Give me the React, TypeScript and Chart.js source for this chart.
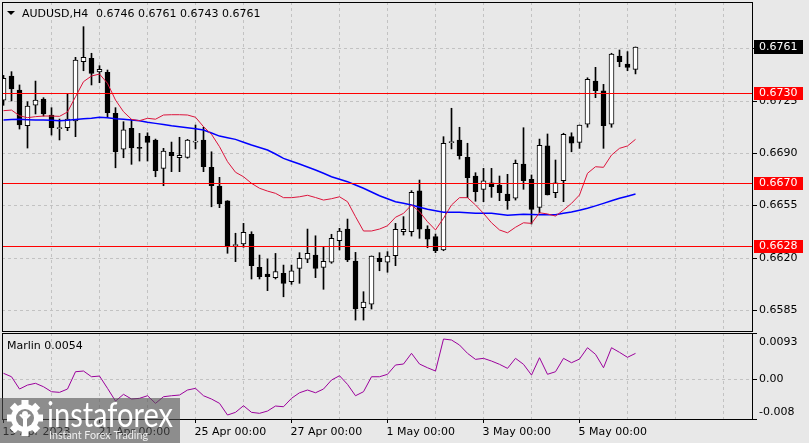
import React, { useEffect, useRef } from 'react';
import { Chart, registerables } from 'chart.js';

Chart.register(...registerables);

const FONT = '"DejaVu Sans", sans-serif';
const BG = '#e8e8e8';
const GRID = '#c2c2c2';

// ---- data (bar index 0 = 19 Apr 2023 00:00, H4 bars) ----
const opens = [
  0.67255, 0.67416, 0.67322, 0.67083, 0.6722, 0.67262, 0.67155, 0.67064, 0.6707, 0.67115,
  0.67512, 0.67534, 0.67443, 0.67441, 0.67166, 0.66927, 0.67066, 0.66934, 0.67014, 0.66988,
  0.66798, 0.66905, 0.66869, 0.66872, 0.66974, 0.66988, 0.66805, 0.6668, 0.6658, 0.66281,
  0.66292, 0.66357, 0.66136, 0.66091, 0.66067, 0.66096, 0.6604, 0.66129, 0.6619, 0.66218,
  0.66136, 0.6617, 0.66314, 0.66392, 0.66178, 0.65866, 0.65889, 0.66196, 0.6617, 0.66214,
  0.66374, 0.66374, 0.66647, 0.66392, 0.66341, 0.66252, 0.6697, 0.66988, 0.66872, 0.66747,
  0.66658, 0.66702, 0.66687, 0.66626, 0.66598, 0.66827, 0.66725, 0.66537, 0.66948, 0.66635,
  0.66715, 0.6701, 0.66972, 0.67093, 0.67382, 0.67316, 0.67093, 0.6755, 0.67496, 0.6746,
];
const highs = [
  0.6742, 0.67445, 0.67356, 0.67244, 0.67382, 0.67271, 0.67204, 0.67128, 0.67295, 0.67541,
  0.67746, 0.67568, 0.67485, 0.67456, 0.67204, 0.6711, 0.67126, 0.67032, 0.67036, 0.66994,
  0.66932, 0.66974, 0.67006, 0.66992, 0.67088, 0.67073, 0.66909, 0.66738, 0.66582, 0.66364,
  0.6643, 0.66374, 0.66218, 0.66192, 0.66229, 0.66151, 0.66151, 0.66234, 0.66392, 0.66347,
  0.6627, 0.66357, 0.66397, 0.66459, 0.66236, 0.65973, 0.66212, 0.66234, 0.66241, 0.6643,
  0.66475, 0.66649, 0.6672, 0.66414, 0.66359, 0.6701, 0.672, 0.67073, 0.66966, 0.66769,
  0.66798, 0.66798, 0.66747, 0.66758, 0.66854, 0.6707, 0.66754, 0.66994, 0.67028, 0.66854,
  0.67033, 0.67036, 0.67088, 0.67404, 0.67474, 0.6736, 0.67568, 0.6759, 0.67579, 0.6761,
];
const lows = [
  0.6722, 0.67249, 0.67061, 0.66934, 0.67162, 0.67148, 0.67021, 0.66988, 0.6705, 0.6701,
  0.67451, 0.67356, 0.67371, 0.67137, 0.66802, 0.66869, 0.66825, 0.66847, 0.66847, 0.66742,
  0.66682, 0.66776, 0.66776, 0.66866, 0.66928, 0.66776, 0.66541, 0.66535, 0.6623, 0.66174,
  0.6627, 0.66058, 0.66058, 0.6598, 0.66058, 0.65939, 0.66022, 0.66029, 0.66167, 0.66067,
  0.65989, 0.66163, 0.66252, 0.66174, 0.65783, 0.65783, 0.65857, 0.66113, 0.66103, 0.66147,
  0.66352, 0.66345, 0.6633, 0.66267, 0.66234, 0.66247, 0.66928, 0.6686, 0.66602, 0.66578,
  0.66575, 0.66604, 0.66582, 0.66524, 0.66586, 0.66658, 0.66426, 0.66501, 0.6662, 0.66602,
  0.66575, 0.66909, 0.66932, 0.67073, 0.67271, 0.66932, 0.67073, 0.67478, 0.67451, 0.6743,
];
const closes = [
  0.674, 0.67329, 0.67088, 0.67215, 0.67255, 0.67162, 0.6707, 0.67067, 0.67128, 0.67523,
  0.67541, 0.67434, 0.67461, 0.6717, 0.66909, 0.67055, 0.66934, 0.66932, 0.66972, 0.66782,
  0.66914, 0.66883, 0.66885, 0.66988, 0.66976, 0.66809, 0.66682, 0.6656, 0.66274, 0.66283,
  0.6637, 0.66147, 0.66073, 0.66073, 0.66107, 0.66029, 0.66113, 0.66196, 0.6623, 0.66129,
  0.66176, 0.6633, 0.66379, 0.66185, 0.65857, 0.65904, 0.66212, 0.66174, 0.66212, 0.6639,
  0.6639, 0.66638, 0.66392, 0.66325, 0.66247, 0.66966, 0.66974, 0.66883, 0.66736, 0.66642,
  0.66715, 0.66675, 0.66635, 0.66582, 0.66832, 0.66715, 0.66524, 0.66952, 0.6662, 0.66702,
  0.67026, 0.66966, 0.67088, 0.67394, 0.67317, 0.67083, 0.67563, 0.67512, 0.67474, 0.6761,
];
const maFast = [
  0.67184, 0.67188, 0.6715, 0.67137, 0.67144, 0.67148, 0.67148, 0.67146, 0.67175, 0.67277,
  0.67378, 0.67416, 0.67429, 0.67367, 0.67255, 0.67177, 0.67126, 0.67117, 0.67133, 0.67127,
  0.67155, 0.67157, 0.67157, 0.67155, 0.6714, 0.67077, 0.67026, 0.66943, 0.66843, 0.66772,
  0.66742, 0.66698, 0.66665, 0.66646, 0.66631, 0.66602, 0.66602, 0.66608, 0.66618, 0.66603,
  0.66586, 0.66595, 0.66608, 0.66575, 0.66475, 0.66379, 0.66379, 0.66392, 0.66414, 0.66471,
  0.66497, 0.66553, 0.66508, 0.66441, 0.66386, 0.66464, 0.66553, 0.66602, 0.66602, 0.66553,
  0.66497, 0.66434, 0.66386, 0.66367, 0.66404, 0.66434, 0.6643, 0.66501, 0.66493, 0.66479,
  0.66519, 0.66564, 0.6662, 0.66765, 0.66809, 0.66805, 0.66887, 0.66932, 0.66948, 0.66992,
];
const maSlow = [
  0.67122, 0.67125, 0.67126, 0.67124, 0.67122, 0.67122, 0.6712, 0.67117, 0.6712, 0.67125,
  0.6713, 0.67133, 0.6714, 0.67137, 0.6713, 0.67126, 0.67122, 0.67117, 0.67106, 0.67099,
  0.67091, 0.67083, 0.67077, 0.6707, 0.67063, 0.67055, 0.67035, 0.67014, 0.67003, 0.66992,
  0.66973, 0.66954, 0.66938, 0.66921, 0.66894, 0.66865, 0.66846, 0.66827, 0.66807, 0.66787,
  0.66765, 0.66742, 0.66725, 0.66709, 0.66687, 0.66665, 0.6664, 0.66615, 0.66595, 0.66575,
  0.66564, 0.66553, 0.66538, 0.66524, 0.66514, 0.66504, 0.66504, 0.66504, 0.66501, 0.66497,
  0.66497, 0.66497, 0.66491, 0.66484, 0.66488, 0.66491, 0.66489, 0.66488, 0.66488, 0.66488,
  0.66497, 0.66506, 0.66518, 0.66531, 0.66547, 0.66564, 0.66581, 0.66598, 0.66612, 0.66626,
];
const marlin = [
  0.00119, 0.0005, -0.00197, -0.00117, -0.00082, -0.00151, -0.00251, -0.00264, -0.00197, 0.00151,
  0.00165, 0.0005, 0.00064, -0.00183, -0.00439, -0.00304, -0.00398, -0.00384, -0.00332, -0.00485,
  -0.00352, -0.00332, -0.00318, -0.00217, -0.00183, -0.00332, -0.00398, -0.00485, -0.0072, -0.00666,
  -0.00533, -0.00666, -0.00686, -0.0064, -0.00539, -0.00553, -0.00384, -0.00272, -0.00217, -0.00272,
  -0.00197, -0.00016, 0.0007, -0.00103, -0.00332, -0.00251, 0.0005, 0.0005, 0.00099, 0.00286,
  0.00306, 0.00521, 0.00306, 0.00231, 0.00165, 0.00809, 0.00789, 0.00688, 0.00521, 0.004,
  0.0042, 0.00366, 0.003, 0.00219, 0.0042, 0.003, 0.00084, 0.00433, 0.00099, 0.00151,
  0.0042, 0.00332, 0.00406, 0.00634, 0.00501, 0.00231, 0.00634, 0.00541, 0.00441, 0.0052,
];

const priceTicks = [0.6585, 0.662, 0.6655, 0.669, 0.6725, 0.676];
const levelLines = [0.673, 0.667, 0.6628];
const lastPrice = 0.6761;
const marlinTicks = [0.0093, 0, -0.008];
const marlinTickLabels = ['0.0093', '0.00', '-0.008'];
const timeLabelIdx = [0, 12, 24, 36, 48, 60, 72];
const timeLabelText = ['19 Apr 2023', '21 Apr 00:00', '25 Apr 00:00', '27 Apr 00:00', '1 May 00:00', '3 May 00:00', '5 May 00:00'];
const symbolTitle = 'AUDUSD,H4';
const ohlcTitle = '0.6746 0.6761 0.6743 0.6761';
const marlinTitle = 'Marlin 0.0054';

// axis ranges
const X_MIN = -0.1875;
const X_MAX = 93.5625;
const PRICE_MIN = 0.6571;
const PRICE_MAX = 0.67911;
const MARLIN_MIN = -0.008;
const MARLIN_MAX = 0.0093;

const W = 809;
const H = 443;

function drawVGrid(ctx: CanvasRenderingContext2D, x: any, a: any) {
  ctx.save();
  ctx.strokeStyle = GRID;
  ctx.lineWidth = 1;
  ctx.setLineDash([3, 3]);
  for (let i = 6; i <= 90; i += 6) {
    const px = Math.floor(x.getPixelForValue(i)) + 0.5;
    ctx.beginPath();
    ctx.moveTo(px, a.top);
    ctx.lineTo(px, a.bottom);
    ctx.stroke();
  }
  ctx.restore();
}

function drawBox(ctx: CanvasRenderingContext2D, a: any) {
  ctx.save();
  ctx.strokeStyle = '#000';
  ctx.lineWidth = 1;
  ctx.strokeRect(a.left + 0.5, a.top + 0.5, a.right - a.left, a.bottom - a.top);
  ctx.restore();
}

const mainPlugin = {
  id: 'mainDecor',
  beforeDatasetsDraw(chart: any) {
    const { ctx, chartArea: a, scales } = chart;
    const x = scales.x, y = scales.y;
    drawVGrid(ctx, x, a);
    ctx.save();
    ctx.strokeStyle = GRID;
    ctx.setLineDash([3, 3]);
    priceTicks.forEach((p) => {
      const py = Math.round(y.getPixelForValue(p)) + 0.5;
      ctx.beginPath();
      ctx.moveTo(a.left, py);
      ctx.lineTo(a.right, py);
      ctx.stroke();
    });
    ctx.restore();
  },
  afterDatasetsDraw(chart: any) {
    const { ctx, chartArea: a, scales } = chart;
    const y = scales.y;
    ctx.save();
    // level lines
    ctx.strokeStyle = '#ff0000';
    ctx.lineWidth = 1;
    levelLines.forEach((p) => {
      const py = Math.round(y.getPixelForValue(p)) + 0.5;
      ctx.beginPath();
      ctx.moveTo(a.left, py);
      ctx.lineTo(a.right, py);
      ctx.stroke();
    });
    drawBox(ctx, a);
    // price axis
    ctx.font = `11px ${FONT}`;
    ctx.textBaseline = 'middle';
    ctx.textAlign = 'left';
    priceTicks.forEach((p) => {
      const py = Math.round(y.getPixelForValue(p)) + 0.5;
      ctx.strokeStyle = '#000';
      ctx.beginPath();
      ctx.moveTo(a.right, py);
      ctx.lineTo(a.right + 5, py);
      ctx.stroke();
      ctx.fillStyle = '#000';
      ctx.fillText(p.toFixed(4), a.right + 7, py);
    });
    levelLines.forEach((p) => {
      const py = Math.round(y.getPixelForValue(p));
      ctx.fillStyle = '#ff0000';
      ctx.fillRect(a.right + 2, py - 6, 49, 13);
      ctx.fillStyle = '#fff';
      ctx.fillText(p.toFixed(4), a.right + 7, py + 0.5);
    });
    const lp = Math.round(y.getPixelForValue(lastPrice));
    ctx.fillStyle = '#000';
    ctx.fillRect(a.right + 2, lp - 7, 49, 14);
    ctx.fillStyle = '#fff';
    ctx.fillText(lastPrice.toFixed(4), a.right + 7, lp + 0.5);
    // title
    ctx.fillStyle = '#000';
    ctx.beginPath();
    ctx.moveTo(7, 11);
    ctx.lineTo(15, 11);
    ctx.lineTo(11, 15);
    ctx.closePath();
    ctx.fill();
    ctx.textBaseline = 'alphabetic';
    ctx.fillText(symbolTitle, 22, 17);
    ctx.fillText(ohlcTitle, 96, 17);
    ctx.restore();
  },
};

function drawGear(ctx: CanvasRenderingContext2D, cx: number, cy: number) {
  ctx.save();
  ctx.translate(cx, cy);
  ctx.fillStyle = '#ffffff';
  for (let k = 0; k < 8; k++) {
    ctx.save();
    ctx.rotate((k * Math.PI) / 4);
    ctx.fillRect(-3.5, -18, 7, 7);
    ctx.restore();
  }
  ctx.beginPath();
  ctx.arc(0, 0, 14, 0, Math.PI * 2);
  ctx.fill();
  ctx.fillStyle = '#8a8a8a';
  ctx.beginPath();
  ctx.arc(0, 0, 9, 0, Math.PI * 2);
  ctx.fill();
  ctx.fillStyle = '#ffffff';
  ctx.beginPath();
  ctx.arc(0, -4, 3, 0, Math.PI * 2);
  ctx.fill();
  ctx.beginPath();
  ctx.moveTo(-6, -3);
  ctx.lineTo(-2, 1);
  ctx.lineTo(-2, 9);
  ctx.lineTo(2, 9);
  ctx.lineTo(2, 1);
  ctx.lineTo(6, -3);
  ctx.lineTo(4, -4);
  ctx.lineTo(0, -1);
  ctx.lineTo(-4, -4);
  ctx.closePath();
  ctx.fill();
  ctx.restore();
}

const subPlugin = {
  id: 'subDecor',
  beforeDatasetsDraw(chart: any) {
    const { ctx, chartArea: a, scales } = chart;
    drawVGrid(ctx, scales.x, a);
    ctx.save();
    ctx.strokeStyle = GRID;
    ctx.setLineDash([3, 3]);
    const py = Math.round(scales.y.getPixelForValue(0)) + 0.5;
    ctx.beginPath();
    ctx.moveTo(a.left, py);
    ctx.lineTo(a.right, py);
    ctx.stroke();
    ctx.restore();
  },
  afterDatasetsDraw(chart: any) {
    const { ctx, chartArea: a, scales } = chart;
    const x = scales.x, y = scales.y;
    ctx.save();
    drawBox(ctx, a);
    ctx.font = `11px ${FONT}`;
    ctx.fillStyle = '#000';
    ctx.strokeStyle = '#000';
    ctx.lineWidth = 1;
    ctx.textBaseline = 'middle';
    marlinTicks.forEach((v, k) => {
      const raw = y.getPixelForValue(v);
      const py = Math.round(Math.min(Math.max(raw, a.top + 9), a.bottom - 7)) + 0.5;
      ctx.beginPath();
      ctx.moveTo(a.right, Math.round(raw) + 0.5);
      ctx.lineTo(a.right + 5, Math.round(raw) + 0.5);
      ctx.stroke();
      ctx.fillText(marlinTickLabels[k], a.right + 7, py);
    });
    // time axis
    ctx.textBaseline = 'alphabetic';
    timeLabelIdx.forEach((idx, k) => {
      const px = Math.floor(x.getPixelForValue(idx)) + 0.5;
      ctx.beginPath();
      ctx.moveTo(px, a.bottom);
      ctx.lineTo(px, a.bottom + 4);
      ctx.stroke();
      ctx.fillText(timeLabelText[k], px - 1, 435);
    });
    // indicator title
    ctx.fillText(marlinTitle, 7, 349);
    // logo overlay
    ctx.fillStyle = 'rgba(80,80,80,0.6)';
    ctx.fillRect(0, 398, 180, 45);
    drawGear(ctx, 25, 418);
    ctx.fillStyle = '#ffffff';
    ctx.font = '34px Lato, sans-serif';
    const w1 = ctx.measureText('instaforex').width;
    ctx.save();
    ctx.translate(47, 427);
    ctx.scale(126 / w1, 1);
    ctx.fillText('instaforex', 0, 0);
    ctx.restore();
    ctx.fillStyle = 'rgba(255,255,255,0.85)';
    ctx.font = '11px Lato, sans-serif';
    const w2 = ctx.measureText('Instant Forex Trading').width;
    ctx.save();
    ctx.translate(49, 439);
    ctx.scale(99 / w2, 1);
    ctx.fillText('Instant Forex Trading', 0, 0);
    ctx.restore();
    ctx.restore();
  },
};

export default function App() {
  const mainRef = useRef<HTMLCanvasElement>(null);
  const subRef = useRef<HTMLCanvasElement>(null);

  useEffect(() => {
    const idx = opens.map((_, i) => i);
    const main = new Chart(mainRef.current as HTMLCanvasElement, {
      type: 'bar',
      data: {
        datasets: [
          {
            type: 'line',
            label: 'MA fast',
            data: idx.map((i) => ({ x: i, y: maFast[i] })),
            borderColor: '#dc143c',
            borderWidth: 1,
            pointRadius: 0,
            tension: 0,
            order: 0,
          } as any,
          {
            type: 'line',
            label: 'MA slow',
            data: idx.map((i) => ({ x: i, y: maSlow[i] })),
            borderColor: '#0000ff',
            borderWidth: 1.5,
            pointRadius: 0,
            tension: 0,
            order: 0,
          } as any,
          {
            type: 'bar',
            label: 'body',
            data: idx.map((i) => ({ x: i, y: [opens[i], closes[i]] })),
            backgroundColor: idx.map((i) => (closes[i] >= opens[i] ? '#ffffff' : '#000000')),
            borderColor: '#000000',
            borderWidth: 1,
            borderSkipped: false,
            barThickness: 5,
            minBarLength: 1,
            grouped: false,
            order: 1,
          } as any,
          {
            type: 'bar',
            label: 'wick',
            data: idx.map((i) => ({ x: i, y: [lows[i], highs[i]] })),
            backgroundColor: '#000000',
            borderWidth: 0,
            barThickness: 1,
            grouped: false,
            order: 2,
          } as any,
        ],
      },
      options: {
        responsive: false,
        animation: false,
        devicePixelRatio: 1,
        events: [],
        layout: { padding: { left: 2, top: 2, right: 57, bottom: 112 } },
        plugins: { legend: { display: false }, tooltip: { enabled: false } },
        scales: {
          x: { type: 'linear', display: false, min: X_MIN, max: X_MAX, offset: false },
          y: { type: 'linear', display: false, min: PRICE_MIN, max: PRICE_MAX },
        },
      } as any,
      plugins: [mainPlugin],
    });

    const sub = new Chart(subRef.current as HTMLCanvasElement, {
      type: 'line',
      data: {
        datasets: [
          {
            label: 'Marlin',
            data: idx.map((i) => ({ x: i, y: marlin[i] })),
            borderColor: '#9b009b',
            borderWidth: 1,
            pointRadius: 0,
            tension: 0,
          },
        ],
      },
      options: {
        responsive: false,
        animation: false,
        devicePixelRatio: 1,
        events: [],
        layout: { padding: { left: 2, top: 333, right: 57, bottom: 24 } },
        plugins: { legend: { display: false }, tooltip: { enabled: false } },
        scales: {
          x: { type: 'linear', display: false, min: X_MIN, max: X_MAX },
          y: { type: 'linear', display: false, min: MARLIN_MIN, max: MARLIN_MAX },
        },
      } as any,
      plugins: [subPlugin],
    });

    return () => {
      main.destroy();
      sub.destroy();
    };
  }, []);

  return (
    <div
      style={{
        position: 'fixed',
        left: 0,
        top: 0,
        width: W,
        height: H,
        background: BG,
        overflow: 'hidden',
      }}
    >
      <canvas ref={subRef} width={W} height={H} style={{ position: 'absolute', left: 0, top: 0, width: W, height: H }} />
      <canvas ref={mainRef} width={W} height={H} style={{ position: 'absolute', left: 0, top: 0, width: W, height: H }} />
    </div>
  );
}
